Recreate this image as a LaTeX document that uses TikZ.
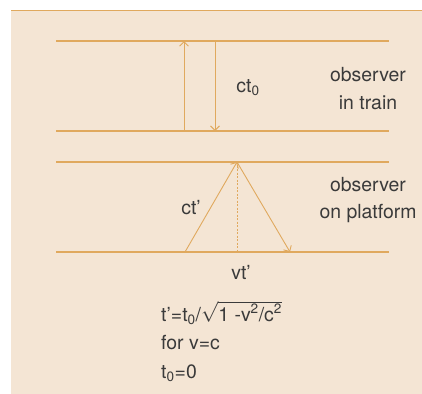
\documentclass[tikz,border=0pt]{standalone}
\usepackage{fontspec}
\setmainfont{TeX Gyre Heros}
\usetikzlibrary{arrows.meta}
\definecolor{panelbg}{HTML}{F4E5D4}
\definecolor{railcol}{HTML}{E0A95E}
\definecolor{inkcol}{HTML}{3A3A3A}
\begin{document}
\begin{tikzpicture}[x=1bp,y=-1bp,font=\fontsize{19.5}{22}\selectfont,
    rail/.style={draw=railcol, line width=1.1bp},
    ray/.style={draw=railcol, line width=0.9bp, -{Straight Barb[length=4.5bp,width=9bp]}},
    txt/.style={text=inkcol, inner sep=0pt}]
        \useasboundingbox (0,0) rectangle (422,394);
        \fill[panelbg] (11,10) rectangle (422,394);
        \coordinate (topl) at (11,10.5);
        \coordinate (topr) at (422,10.5);
        \draw[rail] (topl) -- (topr);
        \foreach \y [count=\i] in {41,131,162,252} {
          \coordinate (left\i) at (56,\y);
          \coordinate (right\i) at (389,\y);
          \draw[rail] (left\i) -- (right\i);
        }
        \coordinate (upfoot) at (184,131);
        \coordinate (uptop) at (184,41);
        \coordinate (downtop) at (215,41);
        \coordinate (downfoot) at (215,131);
        \draw[ray] (upfoot) -- (uptop);
        \draw[ray] (downtop) -- (downfoot);
        \coordinate (start) at (185,252);
        \coordinate (apex) at (237,162);
        \coordinate (finish) at (290,252);
        \coordinate (base) at (237,252);
        \draw[ray] (start) -- (apex);
        \draw[ray] (apex) -- (finish);
        \draw[draw=railcol, line width=0.7bp, dash pattern=on 2bp off 1.5bp] (apex) -- (base);
        \node[txt] (cto) at (248,88) {ct\textsubscript{0}};
        \node[txt, align=center] (train) at (368,89) {observer\\[6bp]in train};
        \node[txt] (ctp) at (191,208) {ct’};
        \node[txt, align=center] (platform) at (368,200) {observer\\[6bp]on platform};
        \node[txt] (vtp) at (241,272) {vt’};
        \node[txt, anchor=west] (formula) at (161,313) {t’=t\textsubscript{0}/$\sqrt{\mbox{1 -v\textsuperscript{2}/c\textsuperscript{2}}}$};
        \node[txt, anchor=west] (limit) at (161,343) {for v=c};
        \node[txt, anchor=west] (result) at (161,373) {t\textsubscript{0}=0};
      \end{tikzpicture}
\end{document}
